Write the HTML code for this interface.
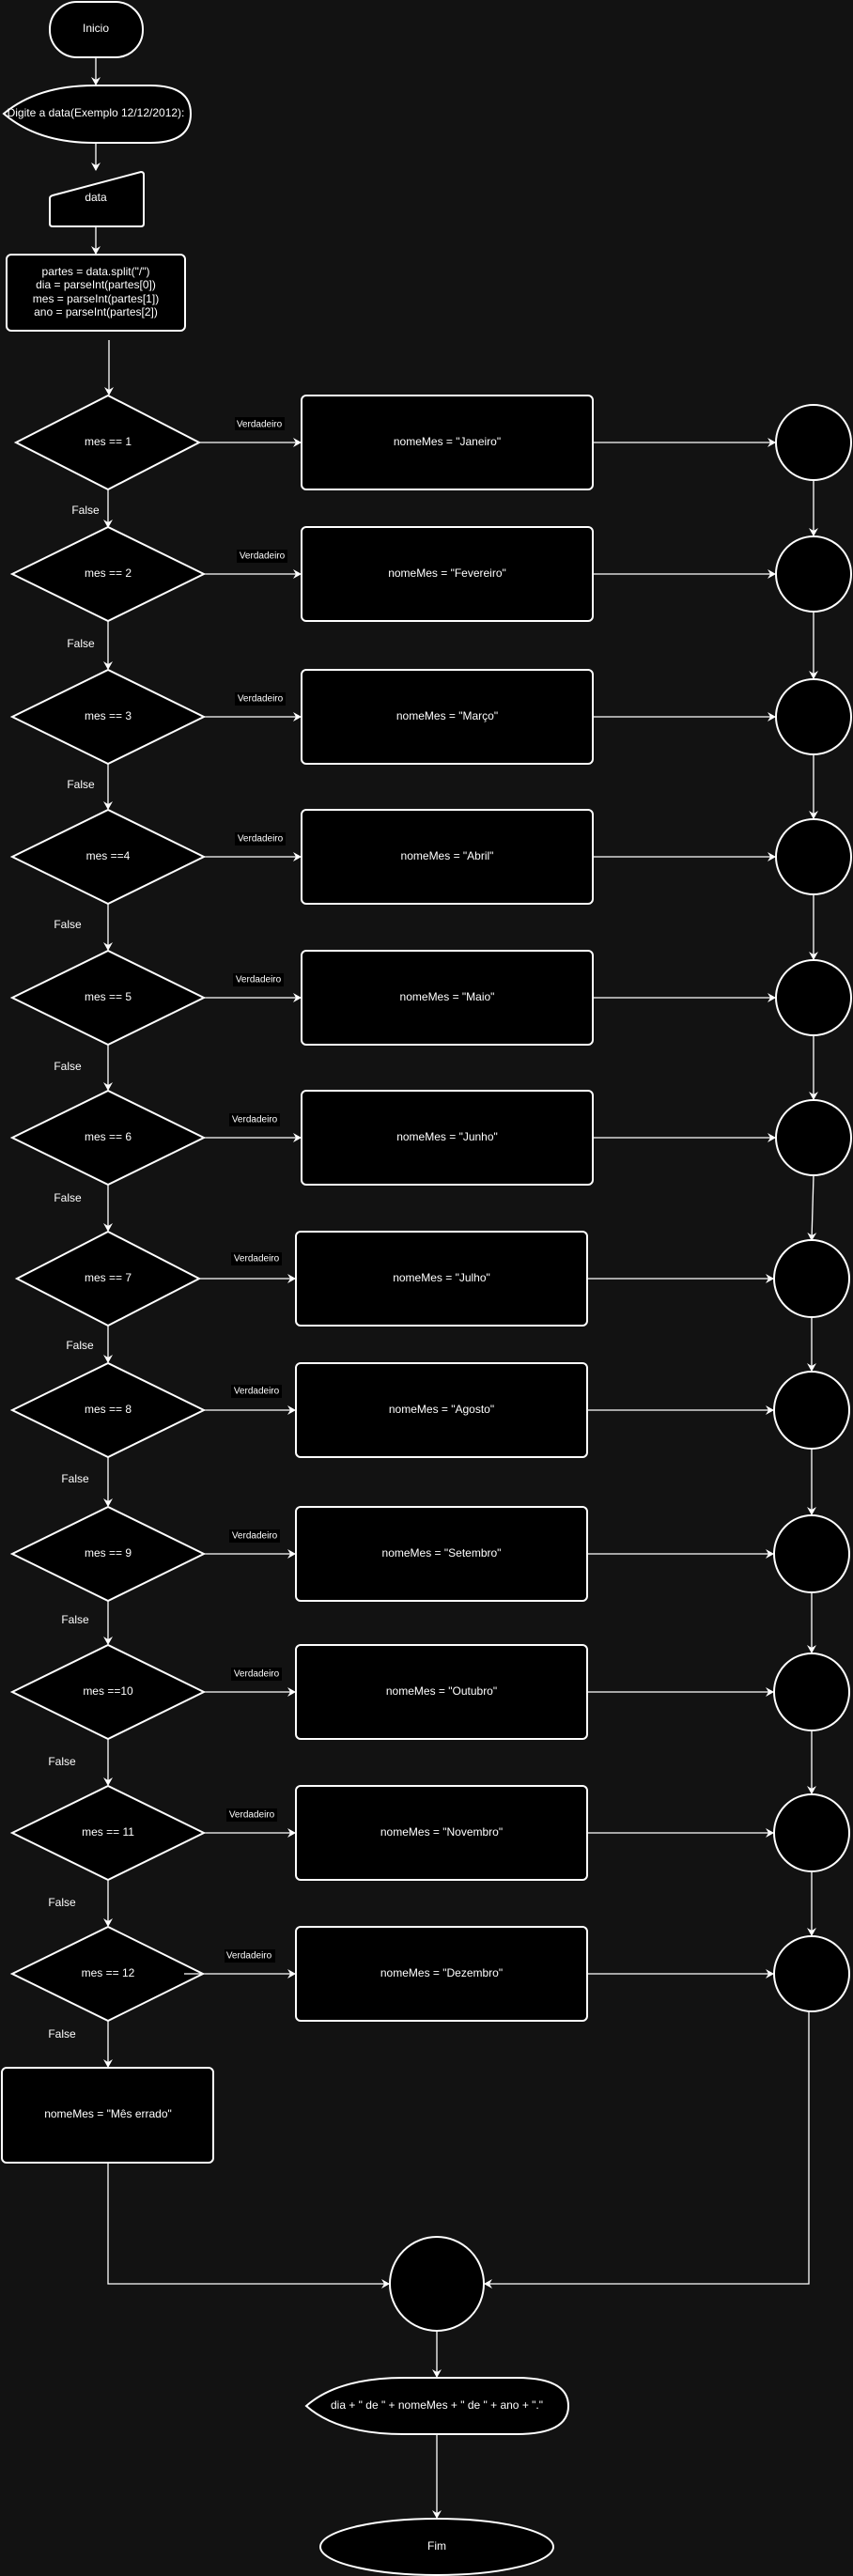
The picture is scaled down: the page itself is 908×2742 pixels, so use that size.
<!DOCTYPE html>
<html><head><meta charset="utf-8"><style>
html,body{margin:0;padding:0;background:#121212;}
svg{display:block;font-family:"Liberation Sans",sans-serif;}
text{fill:#fff;font-size:12px;text-anchor:middle;dominant-baseline:middle;}
.s{fill:#000;stroke:#fff;stroke-width:2;}
.l{stroke:#fff;stroke-width:1.3;fill:none;marker-end:url(#a);}
.v{font-size:10px;}
</style></head><body>
<svg width="908" height="2742" viewBox="0 0 908 2742">
<defs><marker id="a" markerWidth="10" markerHeight="10" refX="8" refY="5" orient="auto" markerUnits="userSpaceOnUse"><path d="M0,0 L9,5 L0,10 L3,5 Z" fill="#fff"/></marker></defs>

<rect class="s" x="53" y="2" width="99" height="59" rx="29"/><text x="102" y="31">Inicio</text>
<path class="l" d="M102 61 V90"/>
<path class="s" d="M4 121 Q40 91 100 91 L160 91 Q203 91 203 121 Q203 152 160 152 L100 152 Q40 152 4 121 Z"/><text x="102" y="121">Digite a data(Exemplo 12/12/2012):</text>
<path class="l" d="M102 152 V181"/>
<path class="s" d="M56 208 L150 183 Q153 183 153 186 V238 Q153 241 150 241 H56 Q53 241 53 238 V211 Q53 209 56 208 Z"/><text x="102" y="211">data</text>
<path class="l" d="M102 241 V270"/>
<rect class="s" x="7" y="271" width="190" height="81" rx="5"/>
<text x="102" y="290">partes = data.split("/")</text><text x="102" y="304">dia = parseInt(partes[0])</text><text x="102" y="319">mes = parseInt(partes[1])</text><text x="102" y="333">ano = parseInt(partes[2])</text>
<path class="l" d="M116 362 V420"/>

<g>
<path class="s" d="M17 471 L115 421 L212 471 L115 521 Z"/><text x="115" y="471">mes == 1</text>
<rect x="250" y="444" width="53" height="14" fill="#000"/><text class="v" x="276" y="452">Verdadeiro</text>
<path class="l" d="M212 471 H320"/><rect class="s" x="321" y="421" width="310" height="100" rx="5"/><text x="476" y="471">nomeMes = "Janeiro"</text>
<path class="l" d="M631 471 H825"/><ellipse class="s" cx="866" cy="471" rx="40" ry="40"/>
<path class="l" d="M866 511 V570"/><path class="l" d="M115 521 V561"/><text x="91" y="544">False</text>

<path class="s" d="M13 611 L115 561 L217 611 L115 661 Z"/><text x="115" y="611">mes == 2</text>
<rect x="252" y="585" width="54" height="14" fill="#000"/><text class="v" x="279" y="592">Verdadeiro</text>
<path class="l" d="M217 611 H320"/><rect class="s" x="321" y="561" width="310" height="100" rx="5"/><text x="476" y="611">nomeMes = "Fevereiro"</text>
<path class="l" d="M631 611 H825"/><ellipse class="s" cx="866" cy="611" rx="40" ry="40"/>
<path class="l" d="M866 651 V722"/><path class="l" d="M115 661 V712"/><text x="86" y="686">False</text>

<path class="s" d="M13 763 L115 713 L217 763 L115 813 Z"/><text x="115" y="763">mes == 3</text>
<rect x="250" y="737" width="54" height="14" fill="#000"/><text class="v" x="277" y="744">Verdadeiro</text>
<path class="l" d="M217 763 H320"/><rect class="s" x="321" y="713" width="310" height="100" rx="5"/><text x="476" y="763">nomeMes = "Março"</text>
<path class="l" d="M631 763 H825"/><ellipse class="s" cx="866" cy="763" rx="40" ry="40"/>
<path class="l" d="M866 803 V871"/><path class="l" d="M115 813 V861"/><text x="86" y="836">False</text>

<path class="s" d="M13 912 L115 862 L217 912 L115 962 Z"/><text x="115" y="912">mes ==4</text>
<rect x="250" y="886" width="54" height="14" fill="#000"/><text class="v" x="277" y="893">Verdadeiro</text>
<path class="l" d="M217 912 H320"/><rect class="s" x="321" y="862" width="310" height="100" rx="5"/><text x="476" y="912">nomeMes = "Abril"</text>
<path class="l" d="M631 912 H825"/><ellipse class="s" cx="866" cy="912" rx="40" ry="40"/>
<path class="l" d="M866 952 V1021"/><path class="l" d="M115 962 V1011"/><text x="72" y="985">False</text>

<path class="s" d="M13 1062 L115 1012 L217 1062 L115 1112 Z"/><text x="115" y="1062">mes == 5</text>
<rect x="248" y="1036" width="54" height="14" fill="#000"/><text class="v" x="275" y="1043">Verdadeiro</text>
<path class="l" d="M217 1062 H320"/><rect class="s" x="321" y="1012" width="310" height="100" rx="5"/><text x="476" y="1062">nomeMes = "Maio"</text>
<path class="l" d="M631 1062 H825"/><ellipse class="s" cx="866" cy="1062" rx="40" ry="40"/>
<path class="l" d="M866 1102 V1170"/><path class="l" d="M115 1112 V1160"/><text x="72" y="1136">False</text>

<path class="s" d="M13 1211 L115 1161 L217 1211 L115 1261 Z"/><text x="115" y="1211">mes == 6</text>
<rect x="244" y="1185" width="54" height="14" fill="#000"/><text class="v" x="271" y="1192">Verdadeiro</text>
<path class="l" d="M217 1211 H320"/><rect class="s" x="321" y="1161" width="310" height="100" rx="5"/><text x="476" y="1211">nomeMes = "Junho"</text>
<path class="l" d="M631 1211 H825"/><ellipse class="s" cx="866" cy="1211" rx="40" ry="40"/>
<path class="l" d="M866 1251 Q865 1290 864 1320"/><path class="l" d="M115 1261 V1310"/><text x="72" y="1276">False</text>

<path class="s" d="M18 1361 L115 1311 L212 1361 L115 1411 Z"/><text x="115" y="1361">mes == 7</text>
<rect x="246" y="1333" width="54" height="14" fill="#000"/><text class="v" x="273" y="1340">Verdadeiro</text>
<path class="l" d="M212 1361 H314"/><rect class="s" x="315" y="1311" width="310" height="100" rx="5"/><text x="470" y="1361">nomeMes = "Julho"</text>
<path class="l" d="M625 1361 H823"/><ellipse class="s" cx="864" cy="1361" rx="40" ry="41"/>
<path class="l" d="M864 1402 V1459"/><path class="l" d="M115 1411 V1450"/><text x="85" y="1433">False</text>

<path class="s" d="M13 1501 L115 1451 L217 1501 L115 1551 Z"/><text x="115" y="1501">mes == 8</text>
<rect x="246" y="1474" width="54" height="14" fill="#000"/><text class="v" x="273" y="1481">Verdadeiro</text>
<path class="l" d="M217 1501 H314"/><rect class="s" x="315" y="1451" width="310" height="100" rx="5"/><text x="470" y="1501">nomeMes = "Agosto"</text>
<path class="l" d="M625 1501 H823"/><ellipse class="s" cx="864" cy="1501" rx="40" ry="41"/>
<path class="l" d="M864 1542 V1612"/><path class="l" d="M115 1551 V1603"/><text x="80" y="1575">False</text>

<path class="s" d="M13 1654 L115 1604 L217 1654 L115 1704 Z"/><text x="115" y="1654">mes == 9</text>
<rect x="244" y="1628" width="54" height="14" fill="#000"/><text class="v" x="271" y="1635">Verdadeiro</text>
<path class="l" d="M217 1654 H314"/><rect class="s" x="315" y="1604" width="310" height="100" rx="5"/><text x="470" y="1654">nomeMes = "Setembro"</text>
<path class="l" d="M625 1654 H823"/><ellipse class="s" cx="864" cy="1654" rx="40" ry="41"/>
<path class="l" d="M864 1695 V1759"/><path class="l" d="M115 1704 V1750"/><text x="80" y="1725">False</text>

<path class="s" d="M13 1801 L115 1751 L217 1801 L115 1851 Z"/><text x="115" y="1801">mes ==10</text>
<rect x="246" y="1775" width="54" height="14" fill="#000"/><text class="v" x="273" y="1782">Verdadeiro</text>
<path class="l" d="M217 1801 H314"/><rect class="s" x="315" y="1751" width="310" height="100" rx="5"/><text x="470" y="1801">nomeMes = "Outubro"</text>
<path class="l" d="M625 1801 H823"/><ellipse class="s" cx="864" cy="1801" rx="40" ry="41"/>
<path class="l" d="M864 1842 V1909"/><path class="l" d="M115 1851 V1900"/><text x="66" y="1876">False</text>

<path class="s" d="M13 1951 L115 1901 L217 1951 L115 2001 Z"/><text x="115" y="1951">mes == 11</text>
<rect x="241" y="1925" width="54" height="14" fill="#000"/><text class="v" x="268" y="1932">Verdadeiro</text>
<path class="l" d="M217 1951 H314"/><rect class="s" x="315" y="1901" width="310" height="100" rx="5"/><text x="470" y="1951">nomeMes = "Novembro"</text>
<path class="l" d="M625 1951 H823"/><ellipse class="s" cx="864" cy="1951" rx="40" ry="41"/>
<path class="l" d="M864 1992 V2060"/><path class="l" d="M115 2001 V2050"/><text x="66" y="2026">False</text>

<path class="s" d="M13 2101 L115 2051 L216 2101 L115 2151 Z"/><text x="115" y="2101">mes == 12</text>
<rect x="239" y="2075" width="54" height="14" fill="#000"/><text class="v" x="265" y="2082">Verdadeiro</text>
<path class="l" d="M196 2101 H314"/><rect class="s" x="315" y="2051" width="310" height="100" rx="5"/><text x="470" y="2101">nomeMes = "Dezembro"</text>
<path class="l" d="M625 2101 H823"/><ellipse class="s" cx="864" cy="2101" rx="40" ry="40"/>
<path class="l" d="M115 2151 V2200"/><text x="66" y="2166">False</text>
</g>

<rect class="s" x="2" y="2201" width="225" height="101" rx="5"/><text x="115" y="2251">nomeMes = "Mês errado"</text>
<path class="l" d="M115 2302 V2431 H414"/>
<path class="l" d="M861 2141 V2431 H516"/>
<ellipse class="s" cx="465" cy="2431" rx="50" ry="50"/>
<path class="l" d="M465 2481 V2530"/>
<path class="s" d="M326 2561 Q360 2531 430 2531 L550 2531 Q605 2531 605 2561 Q605 2591 550 2591 L430 2591 Q360 2591 326 2561 Z"/><text x="465" y="2561">dia + " de " + nomeMes + " de " + ano + "."</text>
<path class="l" d="M465 2591 V2680"/>
<ellipse class="s" cx="465" cy="2711" rx="124" ry="30"/><text x="465" y="2711">Fim</text>
</svg>
</body></html>
